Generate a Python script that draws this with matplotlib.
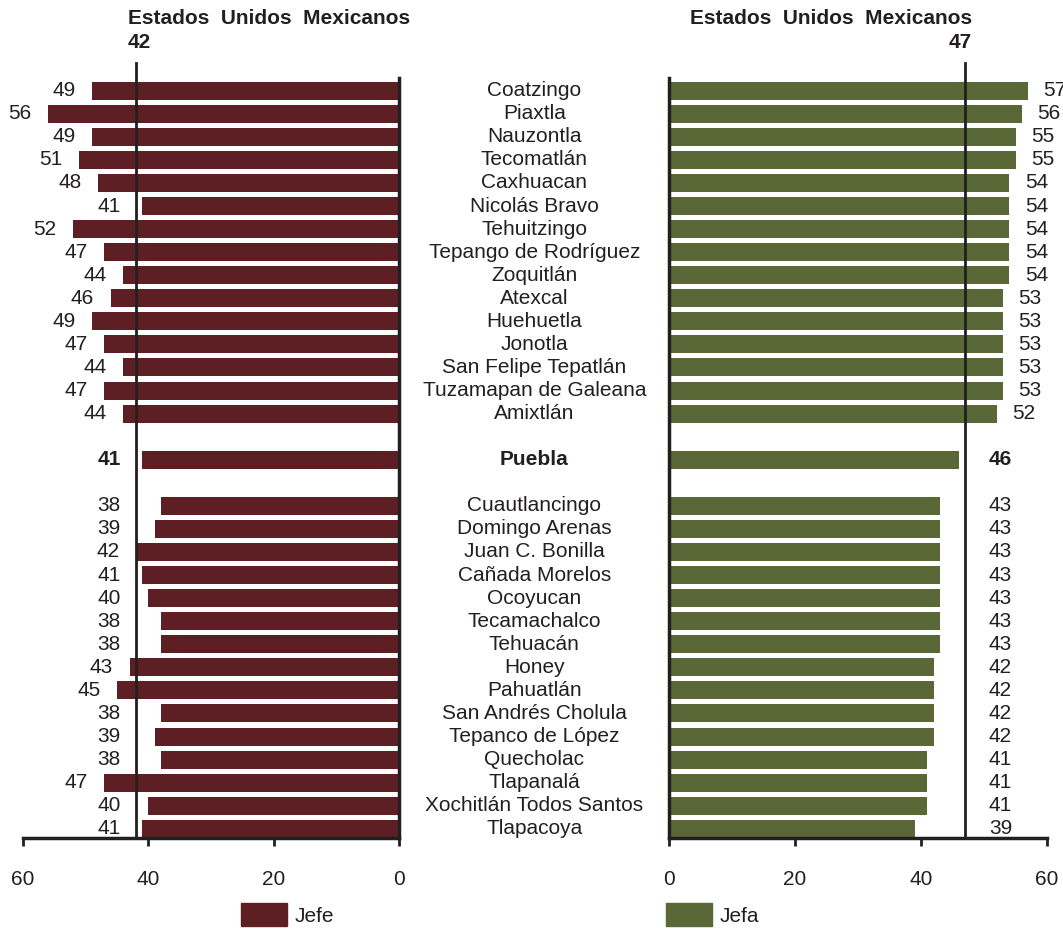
import matplotlib
matplotlib.use('Agg')
import matplotlib.pyplot as plt
from matplotlib.patches import Patch

plt.rcParams['font.family'] = ['Liberation Sans', 'DejaVu Sans']

top_names = ['Coatzingo', 'Piaxtla', 'Nauzontla', 'Tecomatlán', 'Caxhuacan',
             'Nicolás Bravo', 'Tehuitzingo', 'Tepango de Rodríguez', 'Zoquitlán',
             'Atexcal', 'Huehuetla', 'Jonotla', 'San Felipe Tepatlán',
             'Tuzamapan de Galeana', 'Amixtlán']
top_jefe = [49, 56, 49, 51, 48, 41, 52, 47, 44, 46, 49, 47, 44, 47, 44]
top_jefa = [57, 56, 55, 55, 54, 54, 54, 54, 54, 53, 53, 53, 53, 53, 52]

state_name = 'Puebla'
state_jefe = 41
state_jefa = 46

bottom_names = ['Cuautlancingo', 'Domingo Arenas', 'Juan C. Bonilla', 'Cañada Morelos',
                'Ocoyucan', 'Tecamachalco', 'Tehuacán', 'Honey', 'Pahuatlán',
                'San Andrés Cholula', 'Tepanco de López', 'Quecholac', 'Tlapanalá',
                'Xochitlán Todos Santos', 'Tlapacoya']
bottom_jefe = [38, 39, 42, 41, 40, 38, 38, 43, 45, 38, 39, 38, 47, 40, 41]
bottom_jefa = [43, 43, 43, 43, 43, 43, 43, 42, 42, 42, 42, 41, 41, 41, 39]

national_jefe = 42
national_jefa = 47
ticks = [0, 20, 40, 60]

maroon = '#5e1f24'
olive = '#5a6737'
txt = '#231f20'

# row positions: 15 top, gap, state, gap, 15 bottom
names = top_names + [state_name] + bottom_names
jefe = top_jefe + [state_jefe] + bottom_jefe
jefa = top_jefa + [state_jefa] + bottom_jefa
pos = list(range(15)) + [16] + list(range(18, 33))
bold = [False] * 15 + [True] + [False] * 15

W, H = 1063, 930
fig = plt.figure(figsize=(W / 100, H / 100), dpi=100)
ax_top, ax_bot = 63, 838
axl = fig.add_axes([23 / W, 1 - ax_bot / H, (399 - 23) / W, (ax_bot - ax_top) / H])
axr = fig.add_axes([669 / W, 1 - ax_bot / H, (1047 - 669) / W, (ax_bot - ax_top) / H])

ylim = (32.4, -1.2)
zero_top = -0.55
fs = 15

for ax, vals, col, nat in [(axl, jefe, maroon, national_jefe), (axr, jefa, olive, national_jefa)]:
    ax.barh(pos, vals, height=0.78, color=col, zorder=2)
    ax.set_ylim(ylim)
    for s in ['top', 'left', 'right']:
        ax.spines[s].set_visible(False)
    ax.spines['bottom'].set_linewidth(2.5)
    ax.spines['bottom'].set_color(txt)
    ax.set_yticks([])
    ax.set_xticks(ticks)
    ax.tick_params(axis='x', direction='out', length=6, width=2, color=txt,
                   labelsize=fs, labelcolor=txt, pad=17)
    ax.plot([0, 0], [zero_top, ylim[0]], color=txt, lw=2.5, zorder=3, clip_on=False)
    ax.plot([nat, nat], [ylim[1], ylim[0]], color=txt, lw=2, zorder=3, clip_on=False)

axl.set_xlim(60, 0)
axr.set_xlim(0, 60)

for p, v, b in zip(pos, jefe, bold):
    axl.text(max(v, 41.8) + 4.5, p, str(v), ha='center', va='center', fontsize=fs,
             color=txt, fontweight='bold' if b else 'normal', clip_on=False)
for p, v, b in zip(pos, jefa, bold):
    axr.text(max(v, 48.3) + 4.3, p, str(v), ha='center', va='center', fontsize=fs,
             color=txt, fontweight='bold' if b else 'normal', clip_on=False)
for p, n, b in zip(pos, names, bold):
    axl.text(-21.6, p, n, ha='center', va='center', fontsize=fs, color=txt,
             fontweight='bold' if b else 'normal', clip_on=False)

fig.text(128 / W, 1 - 18 / H, 'Estados  Unidos  Mexicanos', ha='left', va='center',
         fontsize=fs, fontweight='bold', color=txt)
fig.text(128 / W, 1 - 43 / H, str(national_jefe), ha='left', va='center',
         fontsize=fs, fontweight='bold', color=txt)
fig.text(972 / W, 1 - 18 / H, 'Estados  Unidos  Mexicanos', ha='right', va='center',
         fontsize=fs, fontweight='bold', color=txt)
fig.text(972 / W, 1 - 43 / H, str(national_jefa), ha='right', va='center',
         fontsize=fs, fontweight='bold', color=txt)

fpx = fs * 100 / 72
for x, lab, col in [(241, 'Jefe', maroon), (666, 'Jefa', olive)]:
    fig.legend(handles=[Patch(color=col, label=lab)], loc='upper left',
               bbox_to_anchor=(x / W, 1 - 903 / H), frameon=False, fontsize=fs,
               borderpad=0, borderaxespad=0, handlelength=46 / fpx,
               handleheight=28 / fpx, handletextpad=8 / fpx, labelcolor=txt)

fig.savefig('out.png', dpi=100)
